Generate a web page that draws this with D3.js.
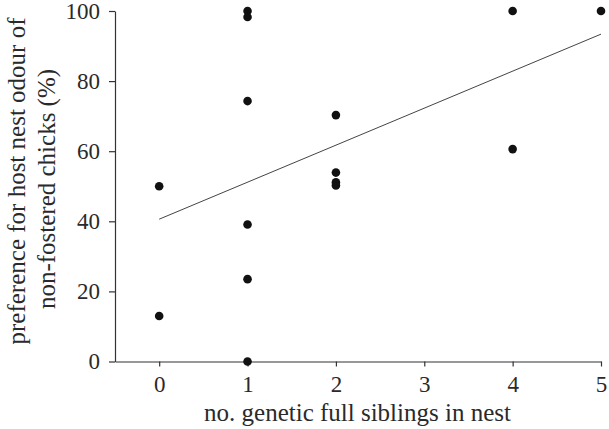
<!DOCTYPE html>
<html>
<head>
<script src="https://d3js.org/d3.v7.min.js"></script>
<style>
  body { margin: 0; background: white; }
</style>
</head>
<body>
<svg width="609" height="429"></svg>
<script>
// full siblings in nest vs preference (%)
var siblings = [0, 0, 1, 1, 1, 1, 1, 1, 2, 2, 2, 2, 4, 4, 5];
var preference = [50, 13, 100, 98.3, 74.3, 39.1, 23.5, 0, 70.3, 53.9, 51.1, 50.2, 100, 60.6, 100];
// fitted line, read at both ends
var fitX = [0, 5];
var fitY = [40.6, 93.4];
var xTicks = [0, 1, 2, 3, 4, 5];
var yTicks = [0, 20, 40, 60, 80, 100];

var serif = "'Liberation Serif', 'Times New Roman', serif";
var ink = "#2a2a2a";

var svg = d3.select("svg");

var x = d3.scaleLinear().domain([-0.5, 5]).range([115, 601]);
var y = d3.scaleLinear().domain([0, 100]).range([361.5, 11]);

// axes
svg.append("g")
  .attr("transform", "translate(0,361.5)")
  .call(d3.axisBottom(x).tickValues(xTicks).tickFormat(d3.format("d"))
    .tickSize(5).tickPadding(9).tickSizeOuter(0));
svg.append("g")
  .attr("transform", "translate(115,0)")
  .call(d3.axisLeft(y).tickValues(yTicks).tickFormat(d3.format("d"))
    .tickSize(6).tickPadding(9).tickSizeOuter(0));

svg.selectAll(".domain, .tick line").attr("stroke", "#333").attr("stroke-width", 1.2);
svg.selectAll(".tick text")
  .attr("font-family", serif)
  .attr("font-size", 23)
  .attr("fill", ink);

// fit line
svg.append("line")
  .attr("x1", x(fitX[0])).attr("y1", y(fitY[0]))
  .attr("x2", x(fitX[1])).attr("y2", y(fitY[1]))
  .attr("stroke", "#444").attr("stroke-width", 1);

// points
svg.selectAll("circle")
  .data(siblings)
  .enter()
  .append("circle")
    .attr("cx", function(d){ return x(d); })
    .attr("cy", function(d, i){ return y(preference[i]); })
    .attr("r", 4.3)
    .attr("fill", "#111");

// axis titles
function title(tx, ty, rot, str) {
  svg.append("text")
    .attr("transform", "translate(" + tx + "," + ty + ") rotate(" + rot + ")")
    .attr("text-anchor", "middle")
    .attr("font-family", serif)
    .attr("font-size", 25)
    .attr("fill", ink)
    .text(str);
}
title(357.5, 421, 0, "no. genetic full siblings in nest");
title(25, 181, -90, "preference for host nest odour of");
title(55, 189, -90, "non-fostered chicks (%)");
</script>
</body>
</html>
